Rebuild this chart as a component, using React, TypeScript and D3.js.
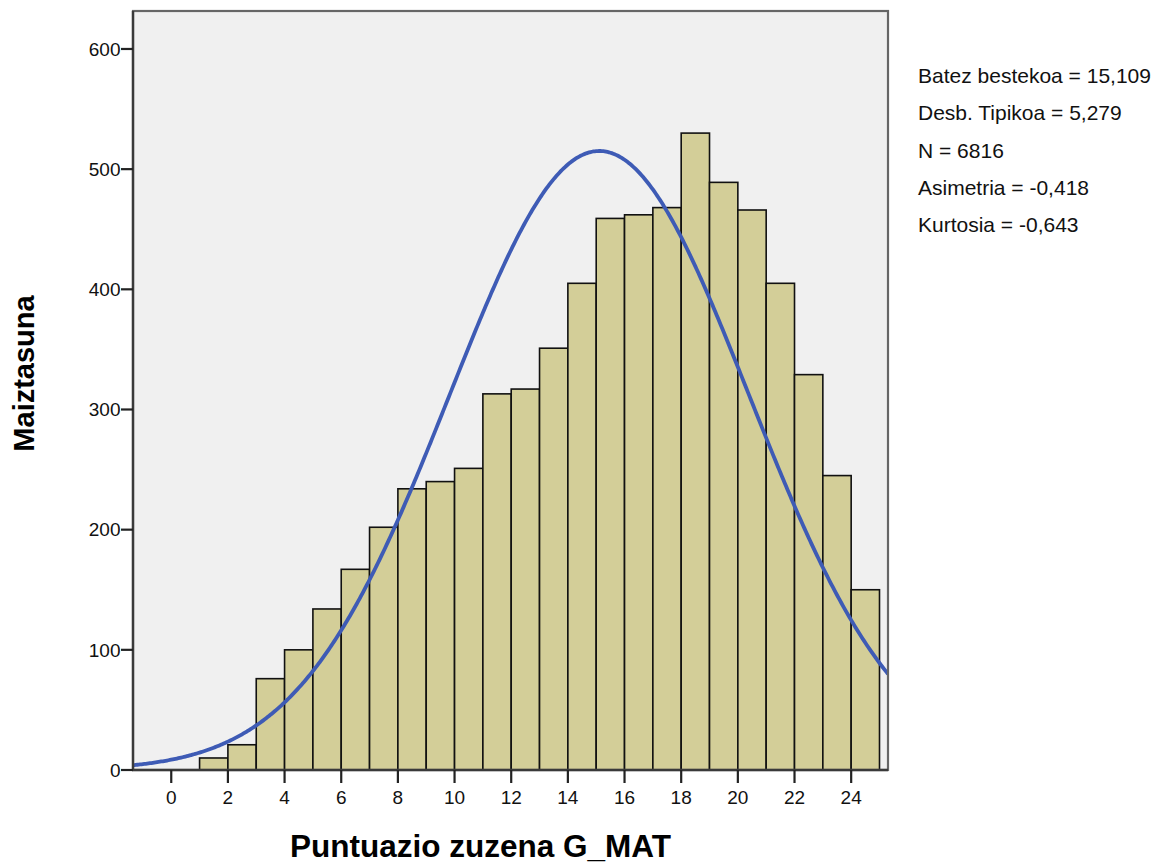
import React from "react";
import * as d3 from "d3";

// ---- data ----
const binStart: number[] = [1, 2, 3, 4, 5, 6, 7, 8, 9, 10, 11, 12, 13, 14, 15, 16, 17, 18, 19, 20, 21, 22, 23, 24];
const binEnd: number[] = [2, 3, 4, 5, 6, 7, 8, 9, 10, 11, 12, 13, 14, 15, 16, 17, 18, 19, 20, 21, 22, 23, 24, 25];
const counts: number[] = [10, 21, 76, 100, 134, 167, 202, 234, 240, 251, 313, 317, 351, 405, 459, 462, 468, 530, 489, 466, 405, 329, 245, 150];
const xTicks: number[] = [0, 2, 4, 6, 8, 10, 12, 14, 16, 18, 20, 22, 24];
const yTicks: number[] = [0, 100, 200, 300, 400, 500, 600];
const statLines: string[] = [
  "Batez bestekoa = 15,109",
  "Desb. Tipikoa = 5,279",
  "N = 6816",
  "Asimetria = -0,418",
  "Kurtosia = -0,643",
];
const meanVal = 15.109;
const sdVal = 5.279;
const nVal = 6816;
const binWidth = 1;
const xTitle = "Puntuazio zuzena G_MAT";
const yTitle = "Maiztasuna";

const W = 1165;
const H = 866;
const L = 133, R = 888, T = 11, B = 770;

export default function App() {
  const x = d3.scaleLinear().domain([-1.35, 25.3]).range([L, R]);
  const y = d3.scaleLinear().domain([0, 631.6]).range([B, T]);

  // fitted normal curve from the reported statistics
  const [x0, x1] = x.domain();
  const curvePts: [number, number][] = d3.range(x0, x1 + 0.001, 0.05).map((v) => {
    const z = (v - meanVal) / sdVal;
    const dens = (nVal * binWidth) / (sdVal * Math.sqrt(2 * Math.PI)) * Math.exp(-0.5 * z * z);
    return [v, dens];
  });
  const line = d3
    .line<[number, number]>()
    .x((d) => x(d[0]))
    .y((d) => y(d[1]))
    .curve(d3.curveLinear);

  const font = "'Liberation Sans', Arial, sans-serif";

  return (
    <svg
      width={W}
      height={H}
      style={{ position: "absolute", left: 0, top: 0, background: "#ffffff" }}
      fontFamily={font}
    >
      <defs>
        <clipPath id="plotclip">
          <rect x={L} y={T} width={R - L} height={B - T} />
        </clipPath>
      </defs>
      {/* plot background */}
      <rect x={L} y={T} width={R - L} height={B - T} fill="#F0F0F0" />
      {/* bars */}
      <g>
        {counts.map((c, i) => (
          <rect
            key={i}
            x={x(binStart[i])}
            y={y(c)}
            width={x(binEnd[i]) - x(binStart[i])}
            height={y(0) - y(c)}
            fill="#D3CE98"
            stroke="#111"
            strokeWidth={1.6}
          />
        ))}
      </g>
      {/* normal curve */}
      <path
        d={line(curvePts) || ""}
        fill="none"
        stroke="#3E5BB5"
        strokeWidth={3.8}
        clipPath="url(#plotclip)"
      />
      {/* frame */}
      <rect x={L} y={T} width={R - L} height={B - T} fill="none" stroke="#666" strokeWidth={2.2} />
      {/* axes */}
      <line x1={L} x2={L} y1={T} y2={B + 1} stroke="#3a3a3a" strokeWidth={2.4} />
      <line x1={L - 1} x2={R} y1={B} y2={B} stroke="#3a3a3a" strokeWidth={2.4} />
      {/* y ticks */}
      {yTicks.map((t) => (
        <g key={"y" + t}>
          <line x1={L - 12} x2={L} y1={y(t)} y2={y(t)} stroke="#222" strokeWidth={2.2} />
          <text x={L - 12.5} y={y(t)} dy="0.36em" textAnchor="end" fontSize={19} fill="#111">
            {t}
          </text>
        </g>
      ))}
      {/* x ticks */}
      {xTicks.map((t) => (
        <g key={"x" + t}>
          <line x1={x(t)} x2={x(t)} y1={B} y2={B + 13} stroke="#222" strokeWidth={2.2} />
          <text x={x(t)} y={804} textAnchor="middle" fontSize={19} fill="#111">
            {t}
          </text>
        </g>
      ))}
      {/* titles */}
      <text x={480.5} y={857} textAnchor="middle" fontSize={31.5} fontWeight="bold" fill="#000">
        {xTitle}
      </text>
      <text
        transform={`translate(34, 373.5) rotate(-90)`}
        textAnchor="middle"
        fontSize={29}
        fontWeight="bold"
        fill="#000"
      >
        {yTitle}
      </text>
      {/* statistics */}
      {statLines.map((s, i) => (
        <text key={s} x={918} y={83 + i * 37.3} fontSize={21} fill="#111">
          {s}
        </text>
      ))}
    </svg>
  );
}
